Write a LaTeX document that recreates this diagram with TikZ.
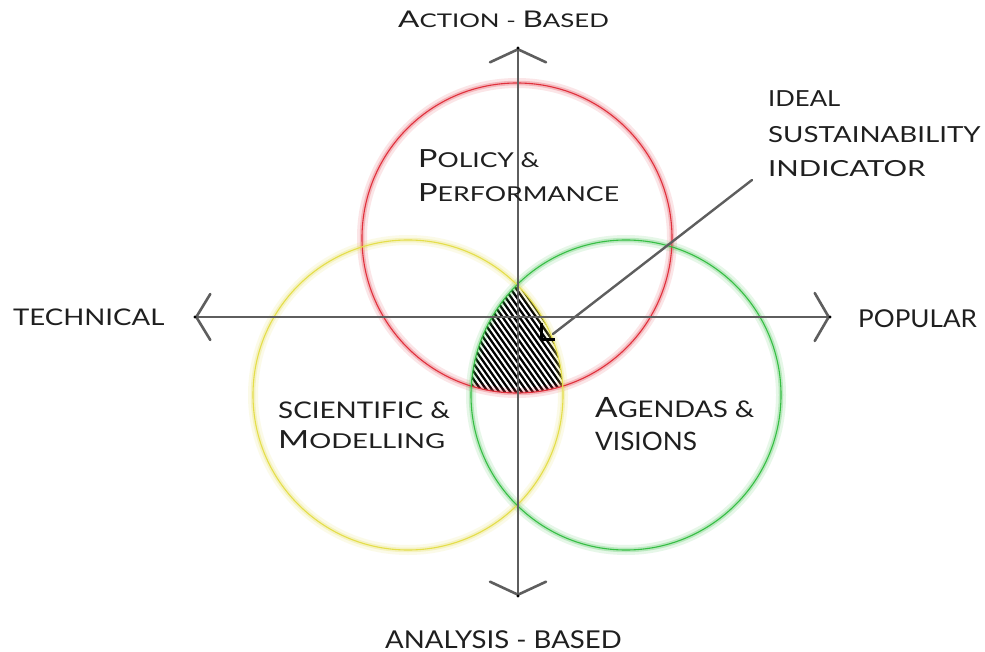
\documentclass[tikz,border=0pt]{standalone}
\usepackage{fontspec}
\setmainfont{Lato}
\usetikzlibrary{arrows.meta}
% small capitals built from scaled upper-case letters
\newcommand\lc[1]{\scalebox{0.82}{\MakeUppercase{#1}}}
% horizontally widened text
\newcommand\widen[2]{\scalebox{#1}[1]{#2}}
\definecolor{axisgrey}{HTML}{5E5E5E}
\definecolor{ringred}{HTML}{E0303C}
\definecolor{ringyellow}{HTML}{E4DE4A}
\definecolor{ringgreen}{HTML}{36BE44}
\tikzset{
  ring/.style={line width=1.1pt},
  glowwide/.style={line width=10pt, opacity=0.12},
  glowmid/.style={line width=4.5pt, opacity=0.25},
  vaxis/.style={axisgrey, line width=2.6pt,
    {Straight Barb[length=13pt, width=56pt, line width=2.6pt, round]}-{Straight Barb[length=13pt, width=56pt, line width=2.6pt, round]}},
  haxis/.style={axisgrey, line width=2.6pt,
    {Straight Barb[length=14pt, width=46pt, line width=2.6pt, round]}-{Straight Barb[length=14pt, width=48pt, line width=2.6pt, round]}},
  lbl/.style={inner sep=0pt, text=black!88, anchor=base west},
  leader/.style={axisgrey, line width=2.4pt},
}
\begin{document}
\begin{tikzpicture}[x=1pt, y=-1pt]
\useasboundingbox (0,0) rectangle (985,652);
\fill[white] (0,0) rectangle (985,652);

% centres of the three circles
\coordinate (cP) at (517,238);
\coordinate (cS) at (408,395);
\coordinate (cA) at (626,395);

% hatched common region
\begin{scope}
  \clip (cP) circle (155);
  \clip (cS) circle (155);
  \clip (cA) circle (155);
  \fill[black] (440,260) rectangle (600,410);
  \foreach \i in {0,5.6,...,330}
    \draw[white, line width=2pt] (300+\i,240) -- ++(130,185);
\end{scope}

% circles with soft halo
\foreach \c/\col in {cP/ringred, cS/ringyellow, cA/ringgreen}{
  \draw[\col, glowwide] (\c) circle (155);
  \draw[\col, glowmid] (\c) circle (155);
}
\draw[ringred, ring] (cP) circle (155);
\draw[ringyellow, ring] (cS) circle (155);
\draw[ringgreen, ring] (cA) circle (155);

% axes
\coordinate (vtop) at (518,48);
\coordinate (vbot) at (518,596);
\coordinate (hleft) at (195,317);
\coordinate (hright) at (830,317);
\draw[vaxis] (vbot) -- (vtop);
\draw[haxis] (hleft) -- (hright);
\foreach \p in {vtop,vbot,hleft,hright} \fill[black] (\p) circle (1.6);

% leader to the common region
\coordinate (ldrA) at (752,180);
\coordinate (ldrB) at (553,334);
\draw[leader, line cap=round] (ldrA) -- (ldrB);
\coordinate (mk) at (541,339);
\draw[black, line width=3pt] (541,323) -- (mk) -- (555,339);

% axis labels
\node[lbl, font=\fontsize{23}{23}\selectfont] (act) at (398,28) {\widen{1.37}{A\lc{ction - }B\lc{ased}}};
\node[lbl, font=\fontsize{30}{30}\selectfont] (ana) at (385,648) {\widen{1.12}{\lc{analysis - based}}};
\node[lbl, font=\fontsize{28}{28}\selectfont] (tec) at (13,326) {\widen{1.2}{\lc{technical}}};
\node[lbl, font=\fontsize{30}{30}\selectfont] (pop) at (858,327) {\widen{1.06}{\lc{popular}}};

% indicator label
\node[lbl, font=\fontsize{27}{27}\selectfont] (isi1) at (768,107) {\widen{1.16}{\lc{ideal}}};
\node[lbl, font=\fontsize{27}{27}\selectfont] (isi2) at (768,143) {\widen{1.25}{\lc{sustainability}}};
\node[lbl, font=\fontsize{27}{27}\selectfont] (isi3) at (768,177) {\widen{1.33}{\lc{indicator}}};

% circle labels
\node[lbl, font=\fontsize{25}{25}\selectfont] (pp1) at (418,168) {\widen{1.29}{P\lc{olicy \&}}};
\node[lbl, font=\fontsize{25}{25}\selectfont] (pp2) at (418,202) {\widen{1.3}{P\lc{erformance}}};
\node[lbl, font=\fontsize{28}{28}\selectfont] (sm1) at (278,418) {\widen{1.21}{\lc{scientific \&}}};
\node[lbl, font=\fontsize{25}{25}\selectfont] (sm2) at (278,448) {\widen{1.34}{M\lc{odelling}}};
\node[lbl, font=\fontsize{28}{28}\selectfont] (av1) at (595,417) {\widen{1.19}{A\lc{gendas \&}}};
\node[lbl, font=\fontsize{31}{31}\selectfont] (av2) at (595,450) {\widen{1.03}{\lc{visions}}};
\end{tikzpicture}
\end{document}
